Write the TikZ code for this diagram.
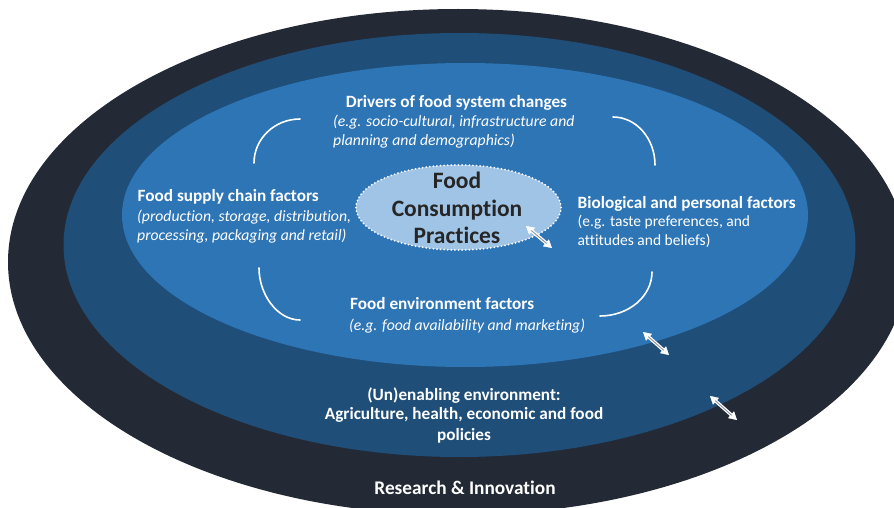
\documentclass[tikz,border=0pt]{standalone}
\usepackage{fontspec}
\setmainfont{Carlito}[Ligatures=NoCommon]
\usetikzlibrary{arrows.meta,shapes.geometric}
\definecolor{outerc}{RGB}{35,42,53}
\definecolor{midc}{RGB}{31,78,121}
\definecolor{innerc}{RGB}{46,117,182}
\definecolor{corec}{RGB}{160,196,230}
\definecolor{coretext}{RGB}{38,38,38}
\definecolor{arrgray}{RGB}{140,150,165}
\begin{document}
\begin{tikzpicture}[x=1pt,y=-1pt,
  title/.style={text=white, font=\bfseries\fontsize{17.2}{19}\selectfont, inner sep=0pt},
  note/.style={text=white, font=\itshape\fontsize{15.7}{19}\selectfont, inner sep=0pt},
  plain/.style={text=white, font=\fontsize{15.5}{19}\selectfont, inner sep=0pt},
  big/.style={text=white, font=\bfseries\fontsize{19.3}{22}\selectfont, inner sep=0pt},
  coretxt/.style={text=coretext, font=\bfseries\fontsize{23.5}{27}\selectfont, inner sep=0pt},
  corner/.style={white, line width=1.6pt, line cap=round},
  tipline/.style={white, line width=0.4pt, {Triangle[width=9pt,length=8pt]}-{Triangle[width=9pt,length=8pt]}},
  shaftw/.style={white, line width=3.4pt, shorten <=6pt, shorten >=6pt},
  shaftg/.style={arrgray, line width=0.9pt, shorten <=7pt, shorten >=7pt}]
\useasboundingbox (0,0) rectangle (894,508);
\clip (0,0) rectangle (894,508);
% layers
\fill[outerc] (458,262) ellipse [x radius=450, y radius=253];
\fill[midc] (459.5,245) ellipse [x radius=396, y radius=212];
\fill[innerc] (465,215) ellipse [x radius=343, y radius=152];
% core
\node[ellipse, minimum width=205pt, minimum height=85pt, inner sep=0pt, fill=corec, draw=white,
      line width=2pt, line cap=round, dash pattern=on 0pt off 3.6pt] (core) at (458.5,207.5) {};
\node[coretxt, anchor=base] (c1) at (457,188.5) {Food};
\node[coretxt, anchor=base] (c2) at (457,216) {Consumption};
\node[coretxt, anchor=base] (c3) at (457,243.5) {Practices};
% corner arcs
\draw[corner] (300,119) .. controls (274.6,119) and (254,138.7) .. (254,163);
\draw[corner] (613,117) .. controls (636.2,117) and (655,138.5) .. (655,165);
\draw[corner] (259,268) .. controls (259,294.5) and (277.4,320) .. (300,320);
\draw[corner] (652,272) .. controls (652,296.3) and (628.7,316) .. (600,316);
% texts
\node[title, anchor=base] (drv) at (456.5,107.5) {Drivers of food system changes};
\node[note, anchor=base west] (drv1) at (333,127) {(e.g. socio-cultural, infrastructure and};
\node[note, anchor=base west] (drv2) at (333,146) {planning and demographics)};
\node[title, anchor=base west] (sup) at (137.5,201.7) {Food supply chain factors};
\node[note, anchor=base west] (sup1) at (137,221) {(production, storage, distribution,};
\node[note, anchor=base west] (sup2) at (137,240) {processing, packaging and retail)};
\node[title, anchor=base west] (bio) at (577.5,208) {Biological and personal factors};
\node[plain, anchor=base west] (bio1) at (577.5,226.7) {(e.g. taste preferences, and};
\node[plain, anchor=base west] (bio2) at (577.5,245.3) {attitudes and beliefs)};
\node[title, anchor=base west] (env) at (350,309) {Food environment factors};
\node[note, anchor=base west] (env1) at (349,330) {(e.g. food availability and marketing)};
\node[title, anchor=base] (une) at (464,400) {(Un)enabling environment:};
\node[title, anchor=base] (une1) at (464,419.5) {Agriculture, health, economic and food};
\node[title, anchor=base] (une2) at (464,440) {policies};
\node[big, anchor=base] (res) at (465,494.5) {Research \& Innovation};
% arrows
\coordinate (a1s) at (526,226); \coordinate (a1e) at (552,248);
\coordinate (a2s) at (643,332); \coordinate (a2e) at (669,355);
\coordinate (a3s) at (710,396); \coordinate (a3e) at (737,420);
\foreach \s/\e in {a1s/a1e,a2s/a2e,a3s/a3e}{
  \draw[tipline] (\s) -- (\e);
  \draw[shaftw] (\s) -- (\e);
  \draw[shaftg] (\s) -- (\e);
}
\end{tikzpicture}
\end{document}
